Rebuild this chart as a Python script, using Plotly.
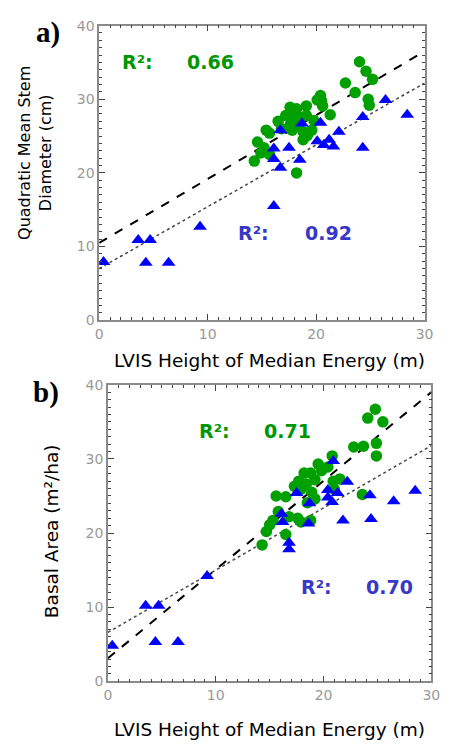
import plotly.graph_objects as go

# ---------------- data ----------------
# Panel a: Quadratic Mean Stem Diameter (cm) vs LVIS height of median energy (m)
a_green_x = [24.0, 24.6, 25.2, 22.7, 23.6, 24.8, 24.9, 20.4, 20.5, 20.6, 21.3, 17.6, 18.2, 19.1, 19.1,
             17.8, 17.2, 16.5, 17.6, 18.4, 19.8, 18.8, 19.2, 18.8, 17.8, 15.4, 15.7, 14.6, 15.2, 14.9,
             14.3, 15.7, 18.2, 19.6, 20.1, 16.8, 18.6]
a_green_y = [35.1, 33.8, 32.7, 32.2, 30.9, 30.0, 29.2, 30.5, 29.8, 29.1, 27.9, 28.9, 28.7, 29.1, 27.8,
             27.6, 27.8, 27.0, 26.5, 26.5, 27.1, 25.6, 25.1, 24.5, 25.8, 25.8, 25.4, 24.2, 23.4, 22.7,
             21.6, 22.5, 20.0, 25.8, 29.9, 26.0, 27.5]
a_blue_x = [0.4, 3.6, 4.7, 4.3, 6.4, 9.3, 16.1, 16.1, 16.1, 16.7, 16.7, 17.5, 18.5, 18.7, 20.1, 20.4,
            20.7, 21.2, 21.6, 22.1, 24.3, 24.3, 26.4, 28.4]
a_blue_y = [7.9, 10.9, 10.9, 7.8, 7.8, 12.7, 15.5, 23.3, 21.9, 20.7, 25.8, 23.4, 21.8, 26.7, 24.3, 26.8,
            23.8, 24.5, 23.6, 25.6, 27.6, 23.4, 29.9, 27.9]

# Panel b: Basal Area (m²/ha)
b_green_x = [24.8, 24.1, 25.5, 22.8, 23.7, 24.9, 24.9, 20.8, 20.4, 19.5, 18.8, 18.2, 17.7, 19.2, 17.9,
             18.9, 18.5, 19.2, 21.0, 21.5, 15.6, 16.5, 15.8, 16.8, 17.6, 17.9, 18.8, 15.3, 15.0, 14.7,
             16.5, 14.3, 23.6, 18.4, 20.9, 19.8, 17.3]
b_green_y = [36.7, 35.5, 35.0, 31.6, 31.7, 32.1, 30.4, 30.4, 28.9, 29.3, 28.1, 28.1, 27.0, 27.2, 25.9,
             25.5, 24.1, 24.6, 25.9, 27.3, 25.0, 24.9, 22.9, 22.2, 22.0, 21.5, 21.7, 21.7, 21.1, 20.2,
             19.8, 18.4, 25.2, 26.6, 27.0, 28.4, 26.3]
b_blue_x = [0.4, 3.5, 4.7, 4.4, 6.5, 9.2, 16.1, 16.2, 16.8, 16.8, 17.5, 18.7, 18.6, 20.9, 20.4, 20.4,
            20.8, 21.3, 22.2, 21.8, 24.3, 24.4, 26.5, 28.5]
b_blue_y = [4.8, 10.2, 10.2, 5.3, 5.3, 14.2, 22.6, 21.5, 18.7, 17.8, 25.4, 24.0, 21.3, 29.7, 25.8, 24.8,
            24.2, 25.4, 26.9, 21.7, 25.1, 21.9, 24.3, 25.7]

# regression fits (intercept, slope)
a_green_fit = (10.5, 0.867)
a_blue_fit = (7.0, 0.84)
b_green_fit = (3.1, 1.197)
b_blue_fit = (6.6, 0.84)
fit_x = [0, 30]

r2_labels = {"a_green": "0.66", "a_blue": "0.92", "b_green": "0.71", "b_blue": "0.70"}
x_ticks = [0, 10, 20, 30]
y_ticks = [0, 10, 20, 30, 40]

# ---------------- styles ----------------
GREEN = "rgb(0,160,0)"
GREEN_T = "rgb(0,150,0)"
BLUE = "rgb(0,0,255)"
BLUE_T = "rgb(55,55,200)"
FONT = "DejaVu Sans"

W, H = 453, 748
def fx(px): return px / W
def fy(py): return 1 - py / H

fig = go.Figure()

def add_panel(gx, gy, bx, by, gfit, bfit, xa, ya):
    fig.add_trace(go.Scatter(x=fit_x, y=[gfit[0] + gfit[1] * v for v in fit_x], mode="lines",
                             line=dict(color="black", width=2, dash="dash"), xaxis=xa, yaxis=ya,
                             showlegend=False, hoverinfo="skip"))
    fig.add_trace(go.Scatter(x=fit_x, y=[bfit[0] + bfit[1] * v for v in fit_x], mode="lines",
                             line=dict(color="#444", width=1.5, dash="dot"), xaxis=xa, yaxis=ya,
                             showlegend=False, hoverinfo="skip"))
    fig.add_trace(go.Scatter(x=gx, y=gy, mode="markers",
                             marker=dict(symbol="circle", size=11.5, color=GREEN, line=dict(width=0)),
                             xaxis=xa, yaxis=ya, showlegend=False))
    fig.add_trace(go.Scatter(x=bx, y=by, mode="markers",
                             marker=dict(symbol="triangle-up", size=12, color=BLUE, line=dict(width=0)),
                             xaxis=xa, yaxis=ya, showlegend=False))

add_panel(a_green_x, a_green_y, a_blue_x, a_blue_y, a_green_fit, a_blue_fit, "x", "y")
add_panel(b_green_x, b_green_y, b_blue_x, b_blue_y, b_green_fit, b_blue_fit, "x2", "y2")

axis_common = dict(
    showgrid=False, zeroline=False, showline=True, linecolor="#8a8a8a", linewidth=1.5,
    mirror="allticks", ticks="inside", ticklen=6, tickwidth=1, tickcolor="#444",
    tickfont=dict(family=FONT, size=14, color="#999"),
    minor=dict(ticks="inside", ticklen=3, dtick=1, tickcolor="#444", tickwidth=1, showgrid=False),
)

fig.update_layout(
    width=W, height=H, margin=dict(l=0, r=0, t=0, b=0),
    plot_bgcolor="white", paper_bgcolor="white",
    xaxis=dict(domain=[fx(98), fx(433)], range=[0, 30], tickvals=x_ticks, anchor="y", **axis_common),
    yaxis=dict(domain=[fy(319), fy(18)], range=[0, 40], tickvals=y_ticks, anchor="x", **axis_common),
    xaxis2=dict(domain=[fx(107), fx(440)], range=[0, 30], tickvals=x_ticks, anchor="y2", **axis_common),
    yaxis2=dict(domain=[fy(688), fy(385)], range=[0, 40], tickvals=y_ticks, anchor="x2", **axis_common),
)

ann = []
def txt(x, y, t, size, color, xref="paper", yref="paper", bold=False, family=FONT, angle=0):
    ann.append(dict(x=x, y=y, xref=xref, yref=yref, text=(f"<b>{t}</b>" if bold else t),
                    showarrow=False, xanchor="center", yanchor="middle", textangle=angle,
                    font=dict(family=family, size=size, color=color)))

# panel labels
txt(fx(45), fy(25), "a)", 29, "black", bold=True, family="Liberation Serif")
txt(fx(43), fy(393), "b)", 29, "black", bold=True, family="Liberation Serif")

# axis titles
txt(fx(273), fy(360), "LVIS Height of Median Energy (m)", 18.5, "black")
txt(fx(273), fy(737), "LVIS Height of Median Energy (m)", 18.5, "black")
txt(fx(32), fy(148), "Quadratic Mean Stem<br>Diameter (cm)", 16, "black", angle=-90)
txt(fx(49), fy(535), "Basal Area (m²/ha)", 18.5, "black", angle=-90)

# R² annotations
txt(3.5, 35.1, "R²:", 19, GREEN_T, "x", "y", bold=True)
txt(10.3, 35.1, r2_labels["a_green"], 19, GREEN_T, "x", "y", bold=True)
txt(14.2, 11.8, "R²:", 19, BLUE_T, "x", "y", bold=True)
txt(21.1, 11.8, r2_labels["a_blue"], 19, BLUE_T, "x", "y", bold=True)
txt(9.9, 33.8, "R²:", 19, GREEN_T, "x2", "y2", bold=True)
txt(16.7, 33.8, r2_labels["b_green"], 19, GREEN_T, "x2", "y2", bold=True)
txt(19.3, 12.7, "R²:", 19, BLUE_T, "x2", "y2", bold=True)
txt(26.1, 12.7, r2_labels["b_blue"], 19, BLUE_T, "x2", "y2", bold=True)

fig.update_layout(annotations=ann)
fig.write_html("out.html", config={"displayModeBar": False},
               post_script="document.body.style.margin='0';document.body.style.overflow='hidden';")
